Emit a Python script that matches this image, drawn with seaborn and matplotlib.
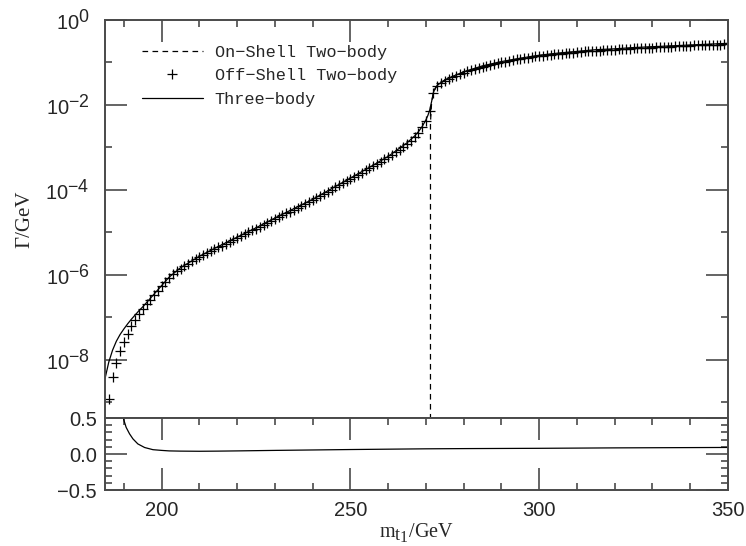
import numpy as np
import pandas as pd
import matplotlib
matplotlib.use("Agg")
import matplotlib.pyplot as plt
import matplotlib.ticker as mticker
import matplotlib._mathtext as _mt
from matplotlib.lines import Line2D
import seaborn as sns

# ---------------- data (log10 of width in GeV) ----------------
off_shell_mass = np.arange(186, 351)
off_shell_log = [
    -8.92, -8.41, -8.07, -7.80, -7.58, -7.39, -7.22, -7.08, -6.94, -6.81,
    -6.70, -6.59, -6.48, -6.38, -6.28, -6.18, -6.08, -5.99, -5.92, -5.86,
    -5.80, -5.75, -5.69, -5.64, -5.59, -5.54, -5.50, -5.45, -5.41, -5.36,
    -5.32, -5.27, -5.23, -5.18, -5.14, -5.10, -5.05, -5.01, -4.96, -4.92,
    -4.87, -4.83, -4.78, -4.74, -4.69, -4.65, -4.60, -4.56, -4.52, -4.47,
    -4.43, -4.38, -4.34, -4.29, -4.25, -4.20, -4.15, -4.10, -4.05, -4.00,
    -3.95, -3.90, -3.85, -3.80, -3.75, -3.70, -3.65, -3.60, -3.55, -3.50,
    -3.45, -3.40, -3.35, -3.29, -3.24, -3.18, -3.12, -3.06, -2.99, -2.92,
    -2.85, -2.76, -2.66, -2.54, -2.38, -2.15, -1.72, -1.56, -1.49, -1.44,
    -1.40, -1.36, -1.32, -1.28, -1.25, -1.22, -1.19, -1.16, -1.14, -1.11,
    -1.09, -1.07, -1.05, -1.03, -1.01, -0.99, -0.97, -0.96, -0.94, -0.93,
    -0.91, -0.90, -0.88, -0.87, -0.86, -0.85, -0.84, -0.83, -0.82, -0.81,
    -0.80, -0.79, -0.78, -0.78, -0.77, -0.76, -0.75, -0.75, -0.74, -0.73,
    -0.73, -0.72, -0.72, -0.71, -0.71, -0.70, -0.70, -0.69, -0.69, -0.68,
    -0.68, -0.67, -0.67, -0.66, -0.66, -0.65, -0.65, -0.64, -0.64, -0.64,
    -0.63, -0.63, -0.62, -0.62, -0.62, -0.61, -0.61, -0.60, -0.60, -0.60,
    -0.59, -0.59, -0.59, -0.58, -0.58,
]

three_body_mass = [
    185, 186, 187, 188, 189, 190, 191, 192, 193, 194, 195, 196, 197, 198, 199, 200,
    202, 205, 210, 215, 220, 225, 230, 235, 240, 245, 250, 255, 260, 265,
    267, 268, 269, 270, 270.5, 271, 271.5, 272, 272.5, 273, 274, 275, 277, 280,
    285, 290, 295, 300, 305, 310, 315, 320, 325, 330, 335, 340, 345, 350,
]
three_body_log = [
    -8.45, -8.06, -7.78, -7.57, -7.41, -7.28, -7.16, -7.05, -6.95, -6.85, -6.76, -6.66, -6.56, -6.46, -6.36, -6.26,
    -6.06, -5.84, -5.57, -5.34, -5.12, -4.90, -4.67, -4.45, -4.23, -3.98, -3.73, -3.48, -3.22, -2.90,
    -2.74, -2.64, -2.52, -2.36, -2.26, -2.13, -1.93, -1.71, -1.61, -1.55, -1.48, -1.42, -1.34, -1.23,
    -1.09, -0.99, -0.91, -0.84, -0.79, -0.75, -0.71, -0.69, -0.66, -0.64, -0.62, -0.60, -0.58, -0.56,
]

on_shell_mass = [271.2, 271.2, 271.5, 272, 272.5, 273, 275, 280, 290, 300, 310, 320, 330, 340, 350]
on_shell_log = [-12.0, -2.42, -1.95, -1.72, -1.62, -1.56, -1.43, -1.24, -1.00, -0.85, -0.76, -0.70, -0.65, -0.61, -0.57]

ratio_mass = [189.6, 190.0, 190.6, 191.5, 192.4, 193.7, 195.5, 197.7, 200, 202, 205, 210, 215, 220,
              230, 240, 250, 260, 270, 280, 290, 300, 310, 320, 330, 340, 350]
ratio_vals = [0.56, 0.47, 0.37, 0.28, 0.21, 0.14, 0.09, 0.06, 0.05, 0.043, 0.04, 0.038, 0.04, 0.043,
              0.05, 0.056, 0.062, 0.067, 0.072, 0.075, 0.077, 0.079, 0.082, 0.085, 0.087, 0.089, 0.091]

legend_labels = ["On\u2212Shell Two\u2212body", "Off\u2212Shell Two\u2212body", "Three\u2212body"]

# ---------------- style ----------------
sns.set_style("white")
plt.rcParams["font.family"] = ["Liberation Sans", "DejaVu Sans"]
plt.rcParams["mathtext.fontset"] = "custom"
plt.rcParams["mathtext.rm"] = "Liberation Serif"
plt.rcParams["mathtext.it"] = "Liberation Serif:italic"
plt.rcParams["mathtext.sf"] = "Liberation Sans"
# larger superscripts, like the reference exponents
_mt.SHRINK_FACTOR = 0.88

spine_c = "#4a4a4a"
W, H = 746, 546
fig = plt.figure(figsize=(W / 100, H / 100), dpi=100)
fig.patch.set_facecolor("white")

L, R = 105, 728
T, M, B = 19.5, 418, 490
ax = fig.add_axes([L / W, 1 - M / H, (R - L) / W, (M - T) / H])
axr = fig.add_axes([L / W, 1 - B / H, (R - L) / W, (B - M) / H])

df_off = pd.DataFrame({"m": off_shell_mass, "w": 10.0 ** np.array(off_shell_log)})
df_3 = pd.DataFrame({"m": three_body_mass, "w": 10.0 ** np.array(three_body_log)})
df_on = pd.DataFrame({"m": on_shell_mass, "w": 10.0 ** np.array(on_shell_log)})
df_r = pd.DataFrame({"m": ratio_mass, "r": ratio_vals})

sns.lineplot(data=df_on, x="m", y="w", ax=ax, color="black", lw=0.9,
             linestyle=(0, (4.5, 3.5)), sort=False, estimator=None)
sns.lineplot(data=df_3, x="m", y="w", ax=ax, color="black", lw=0.9,
             sort=False, estimator=None)
sns.scatterplot(data=df_off, x="m", y="w", ax=ax, color="black", marker="+",
                s=42, linewidth=0.9)

ax.set_yscale("log")
ax.set_xlim(185, 350)
ax.set_ylim(10 ** -9.375, 1.0)

maj = [10.0 ** e for e in (0, -2, -4, -6, -8)]
mino = [10.0 ** e for e in (-1, -3, -5, -7, -9)]
ax.yaxis.set_major_locator(mticker.FixedLocator(maj))
ax.yaxis.set_minor_locator(mticker.FixedLocator(mino))
ax.yaxis.set_major_formatter(mticker.FuncFormatter(
    lambda v, p: r"$\mathsf{10^{%d}}$" % int(round(np.log10(v)))))
ax.yaxis.set_minor_formatter(mticker.NullFormatter())
ax.xaxis.set_major_locator(mticker.MultipleLocator(50))
ax.xaxis.set_minor_locator(mticker.MultipleLocator(10))

ax.tick_params(axis="both", which="both", direction="in", color=spine_c, width=1.2)
ax.tick_params(axis="both", which="major", length=15.5, labelsize=14.5)
ax.tick_params(axis="both", which="minor", length=5)
ax.tick_params(axis="x", which="both", bottom=False, top=True, labelbottom=False)
ax.tick_params(axis="y", which="both", left=True, right=True, pad=11)
ax.set_xlabel("")
ax.set_ylabel("\u0393/GeV", family=["Liberation Serif"], fontsize=15, labelpad=8)

for s in ax.spines.values():
    s.set_color(spine_c)
    s.set_linewidth(1.4)

handles = [
    Line2D([], [], color="black", lw=0.9, linestyle=(0, (4.5, 3.5))),
    Line2D([], [], color="black", lw=0, marker="+", markersize=7, markeredgewidth=0.9),
    Line2D([], [], color="black", lw=0.9),
]
leg = ax.legend(handles, legend_labels, loc="upper left", bbox_to_anchor=(0.059, 0.937),
                frameon=False, borderpad=0, borderaxespad=0, handlelength=3.6,
                handletextpad=0.7, labelspacing=0.5,
                prop={"family": ["Liberation Mono"], "size": 12.2})

# ---------------- ratio panel ----------------
sns.lineplot(data=df_r, x="m", y="r", ax=axr, color="black", lw=0.9,
             sort=False, estimator=None)
axr.set_xlim(185, 350)
axr.set_ylim(-0.5, 0.5)
axr.xaxis.set_major_locator(mticker.MultipleLocator(50))
axr.xaxis.set_minor_locator(mticker.MultipleLocator(10))
axr.yaxis.set_major_locator(mticker.FixedLocator([-0.5, 0.0, 0.5]))
axr.yaxis.set_minor_locator(mticker.MultipleLocator(0.1))
axr.yaxis.set_major_formatter(mticker.FuncFormatter(
    lambda v, p: ("%.1f" % v).replace("-", "\u2212")))
axr.tick_params(axis="both", which="both", direction="in", color=spine_c, width=1.2,
                top=True, bottom=True, left=True, right=True)
axr.tick_params(axis="both", which="major", length=15.5, labelsize=14.5)
axr.tick_params(axis="both", which="minor", length=5)
axr.tick_params(axis="x", which="major", pad=8)
axr.tick_params(axis="y", which="major", pad=6)
axr.set_ylabel("")
axr.set_xlabel(r"$\mathrm{m}_{\mathrm{t}_1}\mathrm{/GeV}$", fontsize=14.5, labelpad=1)
for s in axr.spines.values():
    s.set_color(spine_c)
    s.set_linewidth(1.4)

fig.savefig("out.png", dpi=100, facecolor="white")
